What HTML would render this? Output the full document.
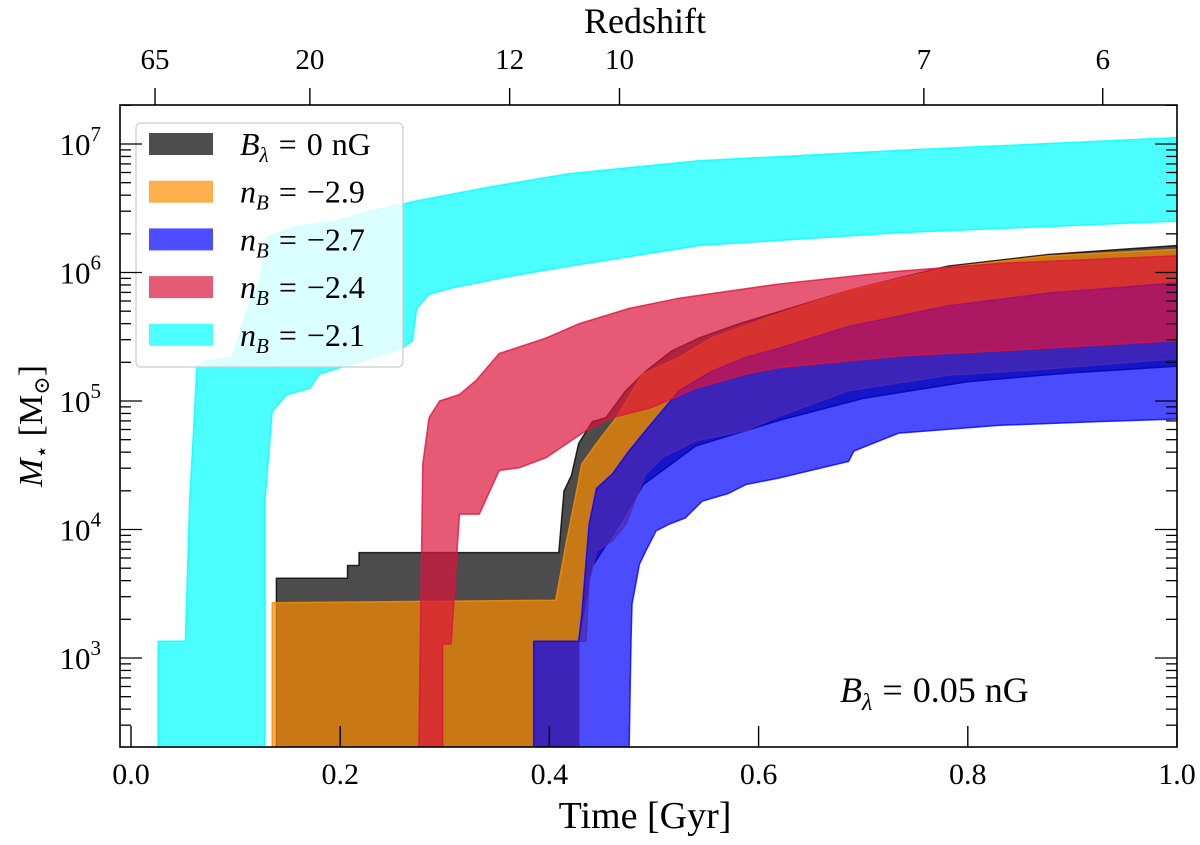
<!DOCTYPE html>
<html><head><meta charset="utf-8"><style>
html,body{margin:0;padding:0;background:#fff;}
svg{display:block;font-family:"Liberation Serif","DejaVu Serif",serif;}
</style></head><body>
<svg id="chart" width="1200" height="845" viewBox="0 0 1200 845" xmlns="http://www.w3.org/2000/svg">
<defs><clipPath id="plotclip"><rect x="120" y="105" width="1057" height="642"/></clipPath></defs>
<g id="bands" clip-path="url(#plotclip)"></g>
<g id="legend"></g>
<g id="axes"></g>
<text x="645" y="828" font-size="38" text-anchor="middle">Time [Gyr]</text>
<text x="645" y="33" font-size="36" text-anchor="middle">Redshift</text>
<text transform="translate(42,426) rotate(-90)" font-size="34" text-anchor="middle"><tspan font-style="italic">M</tspan><tspan font-size="22" dy="7">⋆</tspan><tspan dy="-7"> [M</tspan><tspan font-size="22" dy="7">⊙</tspan><tspan dy="-7">]</tspan></text>
<text x="840" y="702" font-size="36"><tspan font-style="italic">B</tspan><tspan font-size="24" dy="8" font-style="italic">λ</tspan><tspan dy="-8" dx="10">=</tspan><tspan dx="10">0.05</tspan><tspan dx="9">nG</tspan></text>
</svg>
<script>
// ---- data (time in Gyr, log10 stellar mass) ----
const blackUpperT = [0.139,0.139,0.207,0.207,0.218,0.218,0.409,0.414,0.421,0.428,0.441,0.454,0.473,0.492,0.517,0.543,0.581,0.686,0.781,0.877,1.0];
const blackUpperLog = [2.2,3.62,3.62,3.72,3.72,3.82,3.82,4.30,4.42,4.67,4.84,4.87,5.08,5.23,5.39,5.49,5.60,5.86,6.05,6.14,6.21];
const blackLowerT = [0.428,0.428,0.440,0.460,0.490,0.540,0.620,0.700,0.800,0.900,1.0];
const blackLowerLog = [2.2,3.13,3.70,3.95,4.35,4.65,4.85,5.02,5.15,5.22,5.27];
const orangeUpperT = [0.135,0.135,0.406,0.416,0.426,0.431,0.445,0.464,0.489,0.524,0.555,0.619,0.686,0.781,0.877,1.0];
const orangeUpperLog = [2.2,3.43,3.45,3.89,4.30,4.51,4.67,4.87,5.21,5.34,5.49,5.68,5.86,6.04,6.13,6.18];
const orangeLowerT = [0.428,0.428,0.435,0.438,0.445,0.460,0.473,0.483,0.492,0.508,0.540,0.588,0.619,0.686,0.781,0.877,1.0];
const orangeLowerLog = [2.2,3.13,3.13,3.60,3.83,3.91,4.04,4.25,4.43,4.56,4.69,4.77,4.88,5.08,5.20,5.25,5.33];
const blueUpperT = [0.385,0.385,0.428,0.431,0.438,0.445,0.460,0.476,0.492,0.524,0.555,0.588,0.619,0.686,0.781,0.877,1.0];
const blueUpperLog = [2.2,3.13,3.13,3.34,4.04,4.32,4.43,4.61,4.77,5.08,5.23,5.34,5.41,5.58,5.74,5.84,5.92];
const blueLowerT = [0.476,0.478,0.479,0.486,0.492,0.502,0.514,0.530,0.546,0.571,0.588,0.619,0.686,0.691,0.734,0.829,0.924,1.0];
const blueLowerLog = [2.2,3.13,3.42,3.73,3.83,3.99,4.04,4.09,4.22,4.28,4.35,4.40,4.53,4.61,4.75,4.81,4.84,4.86];
const redUpperT = [0.275,0.279,0.285,0.295,0.314,0.330,0.352,0.397,0.428,0.476,0.524,0.619,0.734,0.829,1.0];
const redUpperLog = [2.2,4.51,4.87,5.0,5.05,5.16,5.37,5.49,5.60,5.72,5.80,5.91,6.01,6.07,6.13];
const redLowerT = [0.298,0.298,0.306,0.314,0.333,0.352,0.371,0.397,0.435,0.460,0.498,0.540,0.588,0.619,0.734,0.829,1.0];
const redLowerLog = [2.2,3.11,3.11,4.12,4.12,4.46,4.48,4.56,4.77,4.87,4.95,5.10,5.21,5.26,5.35,5.39,5.47];
const cyanUpperT = [0.026,0.026,0.052,0.056,0.063,0.072,0.097,0.110,0.123,0.130,0.154,0.196,0.231,0.275,0.339,0.419,0.543,0.734,1.0];
const cyanUpperLog = [2.2,3.13,3.13,4.2,5.26,5.31,5.34,5.68,5.93,6.27,6.35,6.40,6.48,6.56,6.66,6.77,6.87,6.95,7.05];
const cyanLowerT = [0.128,0.128,0.135,0.149,0.171,0.180,0.212,0.259,0.269,0.273,0.285,0.307,0.355,0.419,0.543,0.734,1.0];
const cyanLowerLog = [2.2,4.22,4.92,5.05,5.10,5.21,5.29,5.41,5.47,5.72,5.83,5.88,5.96,6.05,6.21,6.31,6.40];
const xTicks = [0.0,0.2,0.4,0.6,0.8,1.0];
const xTickLabels = ["0.0","0.2","0.4","0.6","0.8","1.0"];
const yDecades = [3,4,5,6,7];
const redshiftTimes = [0.023,0.171,0.362,0.467,0.758,0.929];
const redshiftLabels = ["65","20","12","10","7","6"];
const legendLabels = ["B0","-2.9","-2.7","-2.4","-2.1"];

const NS="http://www.w3.org/2000/svg";
const X0=120,X1=1177,Y0=105,Y1=747;
function xs(t){return 131+1046*t;}
function ys(l){return 144+(7-l)*128.5;}
function mk(tag,attrs,parent){const e=document.createElementNS(NS,tag);for(const k in attrs)e.setAttribute(k,attrs[k]);parent.appendChild(e);return e;}

const bands=document.getElementById('bands');
function band(name,ut,ul,lt,ll,color){
  let pts=[];
  for(let i=0;i<ut.length;i++)pts.push(xs(ut[i]).toFixed(1)+','+ys(ul[i]).toFixed(1));
  for(let i=lt.length-1;i>=0;i--)pts.push(xs(lt[i]).toFixed(1)+','+ys(ll[i]).toFixed(1));
  const p=mk('polygon',{points:pts.join(' '),fill:color,'fill-opacity':0.7,stroke:color,'stroke-opacity':0.8,'stroke-width':1.5,'stroke-linejoin':'round'},bands);
  
  
}
band('band-b0',blackUpperT,blackUpperLog,blackLowerT,blackLowerLog,'#000000');
band('band-nb-2.9',orangeUpperT,orangeUpperLog,orangeLowerT,orangeLowerLog,'#ff8c00');
band('band-nb-2.7',blueUpperT,blueUpperLog,blueLowerT,blueLowerLog,'#0000ff');
band('band-nb-2.4',redUpperT,redUpperLog,redLowerT,redLowerLog,'#dc143c');
band('band-nb-2.1',cyanUpperT,cyanUpperLog,cyanLowerT,cyanLowerLog,'#00ffff');

// legend
const lg=document.getElementById('legend');
const lbox=mk('rect',{x:136,y:123,width:267,height:244,rx:5,fill:'#ffffff','fill-opacity':0.8,stroke:'#cccccc','stroke-width':1.2},lg);


const lcolors=['#4d4d4d','#ffae4c','#4d4dff','#e65a76','#4dffff'];
for(let i=0;i<legendLabels.length;i++){
  const cy=144+i*47.7;
  const sw=mk('rect',{x:149,y:cy-11,width:64,height:22,fill:lcolors[i]},lg);
  
  
  const tx=mk('text',{x:240,y:cy+11,'font-size':32},lg);
  
  
  if(legendLabels[i]==='B0'){
    tx.innerHTML='<tspan font-style="italic">B</tspan><tspan font-style="italic" font-size="21" dy="7">λ</tspan><tspan dy="-7" dx="10">=</tspan><tspan dx="10">0</tspan><tspan dx="9">nG</tspan>';
  }else{
    tx.innerHTML='<tspan font-style="italic">n</tspan><tspan font-style="italic" font-size="21" dy="7">B</tspan><tspan dy="-7" dx="10">=</tspan><tspan dx="10">−'+legendLabels[i].slice(1)+'</tspan>';
  }
}

// axes
const ax=document.getElementById('axes');
const frame=mk('rect',{x:X0,y:Y0,width:X1-X0,height:Y1-Y0,fill:'none',stroke:'#000','stroke-width':1.6},ax);


for(let i=0;i<xTicks.length;i++){
  const x=xs(xTicks[i]);
  mk('line',{x1:x,x2:x,y1:Y1,y2:Y1-21,stroke:'#000','stroke-width':1.4},ax);
  const t=mk('text',{x:x,y:784,'font-size':30,'text-anchor':'middle'},ax);
  t.textContent=xTickLabels[i];
  
  
}
for(let i=0;i<redshiftTimes.length;i++){
  const x=xs(redshiftTimes[i]);
  mk('line',{x1:x,x2:x,y1:Y0,y2:Y0-17,stroke:'#000','stroke-width':1.4},ax);
  const t=mk('text',{x:x,y:69,'font-size':29,'text-anchor':'middle'},ax);
  t.textContent=redshiftLabels[i];
  
  
}
for(let d=2;d<=7;d++){
  for(let m=1;m<=9;m++){
    const l=d+Math.log10(m);
    const y=ys(l);
    if(y<Y0||y>Y1)continue;
    const len=(m===1)?22:11;
    mk('line',{x1:X0,x2:X0+len,y1:y,y2:y,stroke:'#000','stroke-width':1.3},ax);
    mk('line',{x1:X1,x2:X1-len,y1:y,y2:y,stroke:'#000','stroke-width':1.3},ax);
  }
}
for(const d of yDecades){
  const y=ys(d);
  const t=mk('text',{x:101,y:y+11,'font-size':31,'text-anchor':'end'},ax);
  t.innerHTML='10<tspan font-size="21" dy="-14">'+d+'</tspan>';
  
  
}
</script>
</body></html>
